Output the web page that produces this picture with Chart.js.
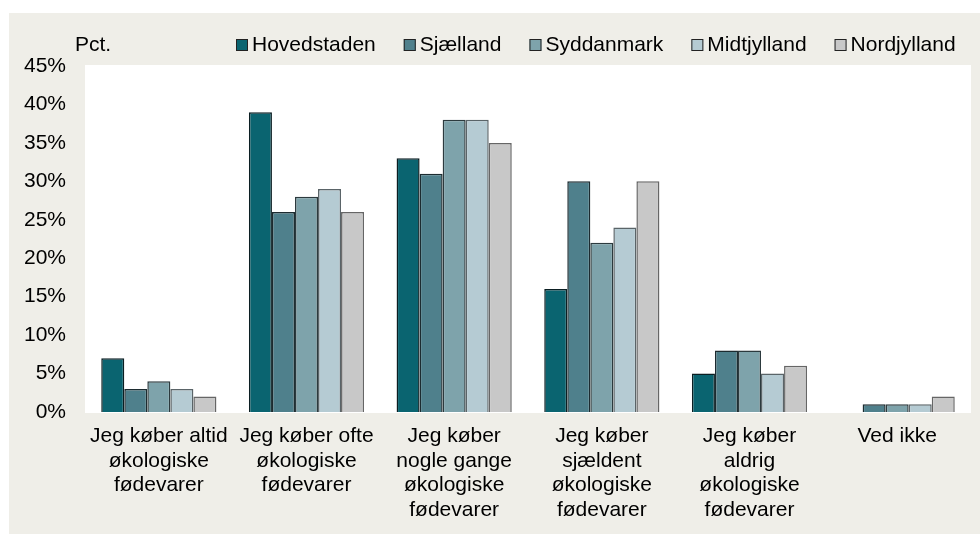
<!DOCTYPE html>
<html>
<head>
<meta charset="utf-8">
<script src="https://cdn.jsdelivr.net/npm/chart.js@4/dist/chart.umd.min.js"></script>
<style>
  html, body { margin: 0; padding: 0; background: #ffffff; }
  #wrap { width: 980px; height: 534px; position: relative; }
</style>
</head>
<body>
<div id="wrap"><canvas id="chart" width="980" height="534"></canvas></div>
<script>
// Kategorier (x-akse)
const categories = [
    ['Jeg køber altid', 'økologiske', 'fødevarer'],
    ['Jeg køber ofte', 'økologiske', 'fødevarer'],
    ['Jeg køber', 'nogle gange', 'økologiske', 'fødevarer'],
    ['Jeg køber', 'sjældent', 'økologiske', 'fødevarer'],
    ['Jeg køber', 'aldrig', 'økologiske', 'fødevarer'],
    ['Ved ikke'],
];

// Regioner, pct.
const hovedstaden = [7, 39, 33, 16, 5, 0];
const sjaelland   = [3, 26, 31, 30, 8, 1];
const syddanmark  = [4, 28, 38, 22, 8, 1];
const midtjylland = [3, 29, 38, 24, 5, 1];
const nordjylland = [2, 26, 35, 30, 6, 2];

const yTicks = [0, 5, 10, 15, 20, 25, 30, 35, 40, 45];

const FONT = "'Liberation Sans', Arial, sans-serif";
const FONT_SIZE = 21;
const BEIGE = '#efeee8';

// baggrund: beige flade med hvidt plotområde
const backdrop = {
    id: 'backdrop',
    beforeDraw(chart) {
        const { ctx, chartArea: a } = chart;
        ctx.save();
        ctx.fillStyle = '#ffffff';
        ctx.fillRect(0, 0, chart.width, chart.height);
        ctx.fillStyle = BEIGE;
        ctx.fillRect(9, 13, chart.width - 9, chart.height - 13);
        ctx.fillStyle = '#ffffff';
        ctx.fillRect(a.left, a.top - 1, a.right - a.left, a.bottom - a.top + 2);
        ctx.restore();
    },
};

// "Pct." og legende i samme linje over plottet
const topLegend = {
    id: 'topLegend',
    afterDraw(chart) {
        const { ctx } = chart;
        const y = 45;
        ctx.save();
        ctx.font = FONT_SIZE + 'px ' + FONT;
        ctx.textBaseline = 'middle';
        ctx.fillStyle = '#000';
        ctx.fillText('Pct.', 75, y);

        let x = 236;
        const gap = 28;
        chart.data.datasets.forEach(ds => {
            ctx.fillStyle = ds.backgroundColor;
            ctx.fillRect(x, y - 6, 12, 12);
            ctx.strokeStyle = '#222';
            ctx.lineWidth = 1;
            ctx.strokeRect(x + 0.5, y - 5.5, 11, 11);
            ctx.fillStyle = '#000';
            ctx.fillText(ds.label, x + 16, y);
            x += 16 + ctx.measureText(ds.label).width + gap;
        });
        ctx.restore();
    },
};

function bars(label, data, fill, edge) {
    return {
        label: label,
        data: data,
        backgroundColor: fill,
        borderColor: edge,
        borderWidth: 1.5,
        borderSkipped: 'bottom',
    };
}

new Chart(document.getElementById('chart'), {
    type: 'bar',
    data: {
        labels: categories,
        datasets: [
            bars('Hovedstaden', hovedstaden, '#0a6470', '#0b1e22'),
            bars('Sjælland', sjaelland, '#4f808c', '#1c2b30'),
            bars('Syddanmark', syddanmark, '#7ea3ab', '#2c3a3e'),
            bars('Midtjylland', midtjylland, '#b5cbd3', '#5a6468'),
            bars('Nordjylland', nordjylland, '#c8c8c8', '#666666'),
        ],
    },
    options: {
        responsive: false,
        animation: false,
        devicePixelRatio: 1,
        layout: { padding: { left: 0, top: 66, right: 9, bottom: 0 } },
        plugins: {
            legend: { display: false },
            tooltip: { enabled: false },
        },
        datasets: {
            bar: { categoryPercentage: 0.78, barPercentage: 1.0 },
        },
        scales: {
            x: {
                grid: { display: false, drawTicks: false },
                border: { display: false },
                ticks: {
                    color: '#000',
                    font: { family: FONT, size: FONT_SIZE, lineHeight: 1.17 },
                    padding: 12,
                    maxRotation: 0,
                    autoSkip: false,
                },
                afterFit: s => { s.height = 534 - 412; },
            },
            y: {
                min: 0,
                max: 45,
                afterBuildTicks: s => { s.ticks = yTicks.map(v => ({ value: v })); },
                grid: { display: false, drawTicks: false },
                border: { display: false },
                ticks: {
                    color: '#000',
                    font: { family: FONT, size: FONT_SIZE },
                    padding: 19,
                    callback: v => v + '%',
                },
                afterFit: s => { s.width = 85; },
            },
        },
    },
    plugins: [backdrop, topLegend],
});
</script>
</body>
</html>
